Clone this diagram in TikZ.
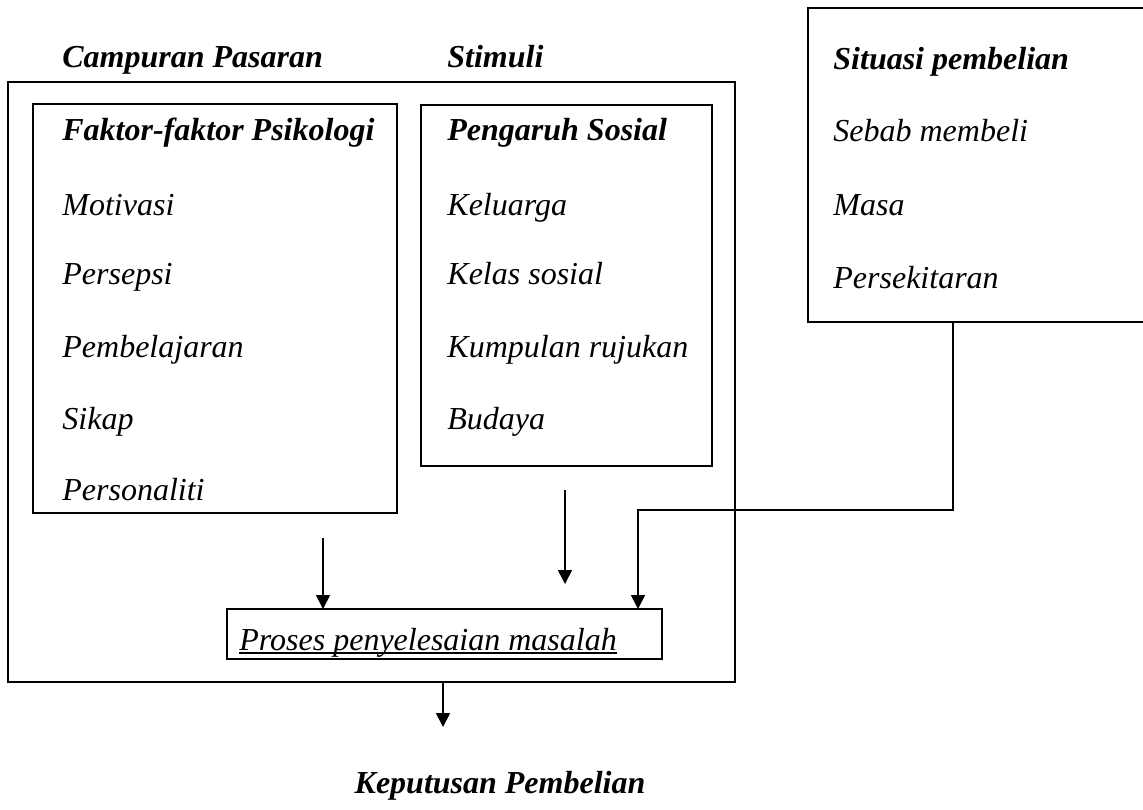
\documentclass[tikz,border=0pt]{standalone}
\usepackage{fontspec}
\setmainfont{Liberation Serif}
\usetikzlibrary{arrows.meta}

\begin{document}
\begin{tikzpicture}[x=0.5pt,y=-0.5pt,
		box/.style={draw,line width=0.8pt,inner sep=0pt,outer sep=0pt},
		hd/.style={anchor=base west,inner sep=0pt,font=\fontsize{16}{19}\selectfont\bfseries\itshape},
		itm/.style={anchor=base west,inner sep=0pt,font=\fontsize{16}{19}\selectfont\itshape},
		arr/.style={line width=0.8pt,-{Triangle[length=7pt,width=7pt]}}]
		\useasboundingbox (0,0) rectangle (1143,809);
		\clip (0,0) rectangle (1143,809);
		% boxes
		\node[box,minimum width=363.5pt,minimum height=300pt] (stimuli) at (371.5,382) {};
		\node[box,minimum width=182pt,minimum height=204.5pt] (psiko) at (215,308.5) {};
		\node[box,minimum width=145.5pt,minimum height=180.5pt] (sosial) at (566.5,285.5) {};
		\node[box,minimum width=181pt,minimum height=157pt] (situasi) at (989,165) {};
		\node[box,minimum width=217.5pt,minimum height=25pt] (proses) at (444.5,634) {};
		% headings
		\node[hd] (campuran) at (62,67) {Campuran Pasaran};
		\node[hd] (stim) at (447,67) {Stimuli};
		\node[hd] (psihead) at (62,140) {Faktor-faktor Psikologi};
		\node[hd] (soshead) at (447,140) {Pengaruh Sosial};
		\node[hd] (sithead) at (833,69) {Situasi pembelian};
		% items
		\foreach \t/\y [count=\i] in {Motivasi/215, Persepsi/284, Pembelajaran/357, Sikap/429, Personaliti/500}
			\node[itm] (psi\i) at (62,\y) {\t};
		\foreach \t/\y [count=\i] in {Keluarga/215, Kelas sosial/284, Kumpulan rujukan/357, Budaya/429}
			\node[itm] (sos\i) at (447,\y) {\t};
		\foreach \t/\y [count=\i] in {Sebab membeli/141, Masa/215, Persekitaran/288}
			\node[itm] (sit\i) at (833,\y) {\t};
		\node[itm] (prostext) at (239,650) {Proses penyelesaian masalah};
		\draw[line width=0.6pt] ([yshift=-1.5pt]prostext.base west) -- ([yshift=-1.5pt]prostext.base east);
		% arrows
		\coordinate (psiA) at (323,538);
		\draw[arr] (psiA) -- (psiA |- proses.north);
		\coordinate (sosA) at (565,490);
		\coordinate (sosB) at (565,584);
		\draw[arr] (sosA) -- (sosB);
		\coordinate (sitA) at (953,510);
		\coordinate (sitB) at (638,510);
		\draw[arr] (situasi.south -| sitA) -- (sitA) -- (sitB) -- (sitB |- proses.north);
		\coordinate (kepA) at (443,727);
		\draw[arr] (stimuli.south -| kepA) -- (kepA);
		\node[hd,anchor=base] (keputusan) at (500,793) {Keputusan Pembelian};
	\end{tikzpicture}
\end{document}
